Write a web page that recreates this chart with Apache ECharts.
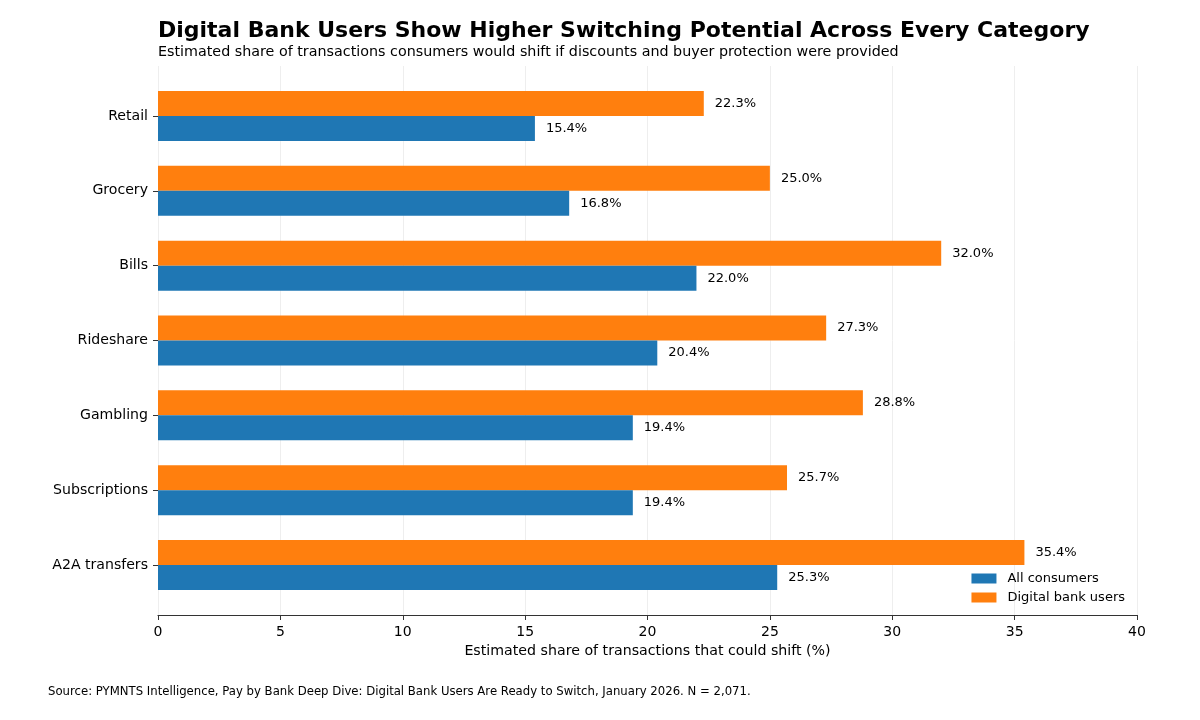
<!DOCTYPE html>
<html><head><meta charset="utf-8">
<script src="https://cdn.jsdelivr.net/npm/echarts@6/dist/echarts.min.js"></script>
<style>html,body{margin:0;padding:0;background:#fff}#c{width:1200px;height:720px}</style>
</head><body><div id="c"></div>
<script>
const categories = ["Retail","Grocery","Bills","Rideshare","Gambling","Subscriptions","A2A transfers"];
const allConsumers = [15.4,16.8,22.0,20.4,19.4,19.4,25.3];
const digitalBankUsers = [22.3,25.0,32.0,27.3,28.8,25.7,35.4];
const xTicks = [0,5,10,15,20,25,30,35,40];

const F = "DejaVu Sans";
const chart = echarts.init(document.getElementById('c'));
chart.setOption({
  animation:false,
  textStyle:{fontFamily:F},
  title:[
    {text:"Digital Bank Users Show Higher Switching Potential Across Every Category",left:158,top:20,padding:0,
     textStyle:{fontFamily:F,fontSize:22,fontWeight:'bold',color:'#000'}},
    {text:"Estimated share of transactions consumers would shift if discounts and buyer protection were provided",left:158,top:45,padding:0,
     textStyle:{fontFamily:F,fontSize:14.3,fontWeight:'normal',color:'#000'}},
    {text:"Source: PYMNTS Intelligence, Pay by Bank Deep Dive: Digital Bank Users Are Ready to Switch, January 2026. N = 2,071.",left:48,top:686,padding:0,
     textStyle:{fontFamily:F,fontSize:11.7,fontWeight:'normal',color:'#000'}}
  ],
  legend:{orient:'vertical',right:75,top:572,padding:0,itemWidth:25,itemHeight:10,itemGap:6,
    data:["All consumers","Digital bank users"],icon:'rect',
    textStyle:{fontFamily:F,fontSize:13,color:'#000',padding:[0,0,0,6]}},
  grid:[
    {left:158,right:63,top:78.5,bottom:117.5},
    {left:158,right:63,top:66,bottom:105}
  ],
  xAxis:[
    {type:'value',gridIndex:0,min:0,max:40,interval:5,show:false},
    {type:'value',gridIndex:1,min:0,max:40,interval:5,
     axisLine:{show:true,lineStyle:{color:'#333',width:1.2}},
     axisTick:{show:true,length:5,lineStyle:{color:'#333'}},
     axisLabel:{fontFamily:F,fontSize:14,color:'#000',margin:10,formatter:v=>xTicks.includes(v)?String(v):''},
     splitLine:{show:true,lineStyle:{color:'#eeeeee',width:1}},
     name:"Estimated share of transactions that could shift (%)",nameLocation:'middle',nameGap:28,
     nameTextStyle:{fontFamily:F,fontSize:14.2,color:'#000'}}
  ],
  yAxis:[
    {type:'category',gridIndex:0,data:categories,inverse:true,
     axisLine:{show:false},
     axisTick:{show:true,length:5,alignWithLabel:true,lineStyle:{color:'#333'}},
     axisLabel:{fontFamily:F,fontSize:14.1,color:'#000',margin:10}},
    {type:'value',gridIndex:1,min:0,max:1,show:false}
  ],
  series:[
    {name:"Digital bank users",type:'bar',xAxisIndex:0,yAxisIndex:0,data:digitalBankUsers,barWidth:25,barGap:'0%',
     itemStyle:{color:'#ff7f0e'},
     label:{show:true,position:'right',distance:11,fontFamily:F,fontSize:13,color:'#000',formatter:p=>p.value.toFixed(1)+'%'}},
    {name:"All consumers",type:'bar',xAxisIndex:0,yAxisIndex:0,data:allConsumers,barWidth:25,barGap:'0%',
     itemStyle:{color:'#1f77b4'},
     label:{show:true,position:'right',distance:11,fontFamily:F,fontSize:13,color:'#000',formatter:p=>p.value.toFixed(1)+'%'}}
  ]
});
</script></body></html>
